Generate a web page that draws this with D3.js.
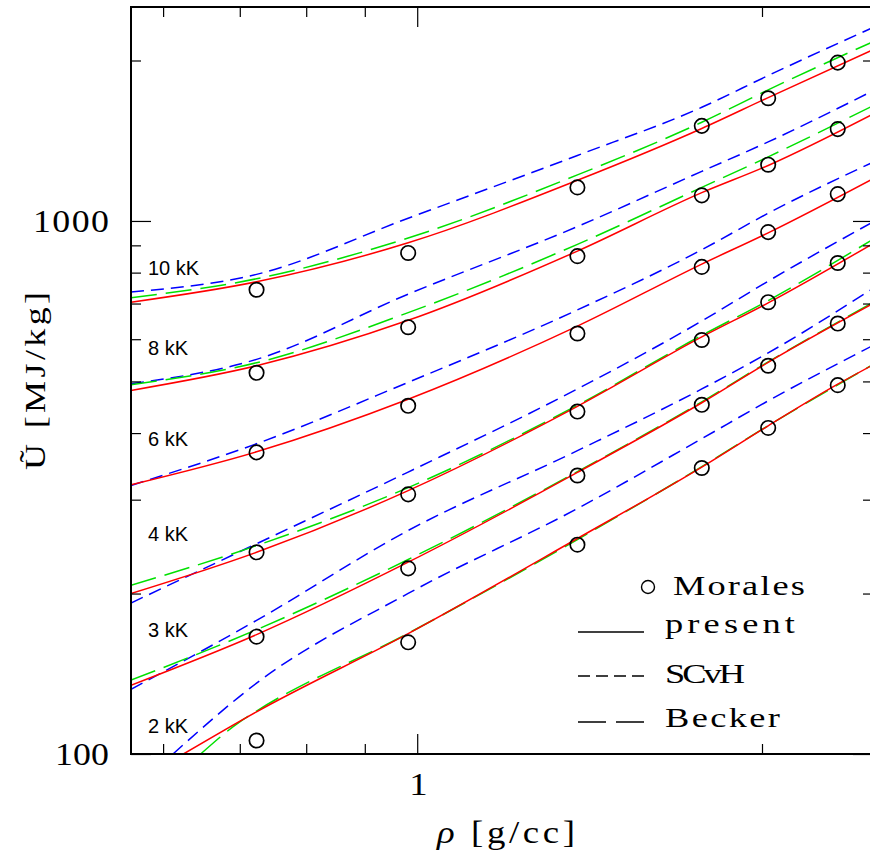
<!DOCTYPE html>
<html>
<head>
<meta charset="utf-8">
<script src="https://cdn.jsdelivr.net/npm/d3@7"></script>
<style>
  html, body { margin: 0; padding: 0; background: #fff; overflow: hidden; }
  svg { display: block; }
  .serif { font-family: "Liberation Serif", "DejaVu Serif", serif; fill: #000; }
  .sans { font-family: "Liberation Sans", Arial, sans-serif; fill: #000; }
</style>
</head>
<body>
<svg id="chart" width="870" height="859"></svg>
<script>
// Internal energy isotherms of dense hydrogen: rho [g/cc] vs U [MJ/kg]

// density grid shared by most isotherm curves
const rhoGrid = [0.5625, 0.724, 0.982, 1.380, 1.772, 2.025, 2.5];

// present model (solid)
const present10 = [704, 769, 910, 1192, 1491, 1704, 2095];
const present8  = [481, 535, 651, 878, 1130, 1271, 1587];
const present6  = [320, 369, 463, 635, 830, 950, 1200];
const present4  = [200, 239, 312, 449, 606, 702, 907];
const present3  = [134.6, 167.5, 229, 337.5, 456, 543, 700];
const rhoPresent2 = [0.625, 0.724, 0.982, 1.380, 1.772, 2.025, 2.329, 2.5];
const present2  = [100, 120.0, 168.2, 253.7, 345.4, 412.8, 494, 537];

// SCvH (short dashes)
const scvh10 = [736, 794, 1012, 1327, 1634, 1874, 2307];
const scvh8  = [495, 550, 729, 976, 1239, 1407, 1755];
const scvh6  = [319, 382, 498, 681, 883, 1034, 1289];
const scvh4  = [192, 248, 338, 484, 649, 771, 996];
const scvh3  = [132.2, 178.1, 262.6, 370.7, 484, 565.5, 747];
const rhoScvh2 = [0.612, 0.724, 0.982, 1.380, 1.772, 2.025, 2.5];
const scvh2  = [100, 135.8, 200.1, 288.7, 390.4, 459.8, 584];

// Becker (long dashes)
const becker10 = [718, 779, 929, 1220, 1532, 1762, 2169];
const becker8  = [493, 542, 673, 904, 1156, 1319, 1645];
const becker4  = [207.2, 246, 316, 451, 610, 709, 924];
const becker3  = [137.6, 171.1, 231.7, 338.6, 457.8, 544, 703];
const rhoBecker2 = [0.647, 0.700, 0.724, 0.982, 1.380, 1.772, 2.025, 2.5];
const becker2  = [100, 114.9, 120.4, 168.4, 252.6, 346, 413, 538];

// Morales et al. simulation points
const rhoMorales = [0.724, 0.982, 1.380, 1.772, 2.025, 2.329];
const morales10 = [743, 871, 1156, 1508, 1699, 1982];
const morales8  = [519, 632, 859, 1117, 1275, 1487];
const morales6  = [368, 450, 615, 820, 953, 1123];
const morales4  = [239, 307, 439, 598, 704, 834];
const morales3  = [166, 223, 333, 452, 535, 642];
const morales2  = [106, 162, 247, 344, 409, 492];

// isotherm labels
const tempLabels = ["10 kK", "8 kK", "6 kK", "4 kK", "3 kK", "2 kK"];

// axis ticks
const xMajor = [1];
const xMinor = [0.6, 0.7, 0.8, 0.9, 2];
const yMajor = [100, 1000];
const yMinor = [200, 300, 400, 500, 600, 700, 800, 900, 2000];

// legend entries
const legendNames = ["Morales", "present", "SCvH", "Becker"];

// ---------------------------------------------------------------
const svg = d3.select("#chart");
const L = 131, R = 873, T = 7, B = 754;

const x = d3.scaleLog().domain([0.5625, 2.5]).range([L, R]);
const y = d3.scaleLog().domain([100, 2520]).range([B, T]);

const COLORS = { present: "#ff0000", scvh: "#0000ff", becker: "#00e000" };
const DASH = { present: null, scvh: "13,7", becker: "26,9" };

svg.append("clipPath").attr("id", "plotClip")
  .append("rect").attr("x", L).attr("y", T).attr("width", R - L).attr("height", B - T);

const plot = svg.append("g").attr("clip-path", "url(#plotClip)");

const line = d3.line()
  .x(d => x(d[0]))
  .y(d => y(d[1]))
  .curve(d3.curveMonotoneX);

const zip = (xs, ys) => xs.map((v, i) => [v, ys[i]]);

const curves = [
  { kind: "scvh", pts: zip(rhoGrid, scvh10) },
  { kind: "scvh", pts: zip(rhoGrid, scvh8) },
  { kind: "scvh", pts: zip(rhoGrid, scvh6) },
  { kind: "scvh", pts: zip(rhoGrid, scvh4) },
  { kind: "scvh", pts: zip(rhoGrid, scvh3) },
  { kind: "scvh", pts: zip(rhoScvh2, scvh2) },
  { kind: "becker", pts: zip(rhoGrid, becker10) },
  { kind: "becker", pts: zip(rhoGrid, becker8) },
  { kind: "becker", pts: zip(rhoGrid, becker4) },
  { kind: "becker", pts: zip(rhoGrid, becker3) },
  { kind: "becker", pts: zip(rhoBecker2, becker2) },
  { kind: "present", pts: zip(rhoGrid, present10) },
  { kind: "present", pts: zip(rhoGrid, present8) },
  { kind: "present", pts: zip(rhoGrid, present6) },
  { kind: "present", pts: zip(rhoGrid, present4) },
  { kind: "present", pts: zip(rhoGrid, present3) },
  { kind: "present", pts: zip(rhoPresent2, present2) }
];

plot.selectAll("path.curve")
  .data(curves)
  .join("path")
  .attr("class", "curve")
  .attr("d", d => line(d.pts))
  .attr("fill", "none")
  .attr("stroke", d => COLORS[d.kind])
  .attr("stroke-width", 1.5)
  .attr("stroke-dasharray", d => DASH[d.kind]);

const moralesSets = [morales10, morales8, morales6, morales4, morales3, morales2];
const moralesPts = moralesSets.flatMap(s => zip(rhoMorales, s));

plot.selectAll("circle.morales")
  .data(moralesPts)
  .join("circle")
  .attr("class", "morales")
  .attr("cx", d => x(d[0]))
  .attr("cy", d => y(d[1]))
  .attr("r", 7.2)
  .attr("fill", "none")
  .attr("stroke", "#000")
  .attr("stroke-width", 1.7);

// ---- axes: inward ticks on all four sides
function tickAxis(axisFn, scale, values, size, transform) {
  const g = svg.append("g").attr("transform", transform)
    .call(axisFn(scale).tickValues(values).tickSize(size).tickFormat(""));
  g.select(".domain").remove();
  g.selectAll(".tick line").attr("stroke", "#000").attr("stroke-width", 1.2);
  return g;
}
tickAxis(d3.axisBottom, x, xMajor, -20, `translate(0,${B})`);
tickAxis(d3.axisBottom, x, xMinor, -10, `translate(0,${B})`);
tickAxis(d3.axisTop, x, xMajor, -20, `translate(0,${T})`);
tickAxis(d3.axisTop, x, xMinor, -10, `translate(0,${T})`);
tickAxis(d3.axisLeft, y, yMajor, -20, `translate(${L},0)`);
tickAxis(d3.axisLeft, y, yMinor, -10, `translate(${L},0)`);
tickAxis(d3.axisRight, y, yMajor, -20, `translate(${R},0)`);
tickAxis(d3.axisRight, y, yMinor, -10, `translate(${R},0)`);

svg.append("rect")
  .attr("x", L).attr("y", T).attr("width", R - L).attr("height", B - T)
  .attr("fill", "none").attr("stroke", "#000").attr("stroke-width", 2);

// wide serif lettering: glyphs stretched horizontally, total width fixed
function wideText(parent, opts) {
  const sx = opts.sx || 1.25;
  const rot = opts.rotate ? ` rotate(${opts.rotate})` : "";
  const t = parent.append("text").attr("class", "serif")
    .attr("transform", `translate(${opts.x},${opts.y})${rot} scale(${sx},1)`)
    .attr("font-size", opts.size)
    .attr("textLength", opts.width / sx)
    .attr("lengthAdjust", "spacing");
  if (opts.html) t.html(opts.html); else t.text(opts.text);
  return t;
}

// tick labels
xMajor.forEach(d => {
  wideText(svg, { x: x(d) - 8, y: 795, size: 32, width: 16, sx: 1.15, text: String(d) });
});
yMajor.forEach(d => {
  const w = String(d).length === 4 ? 76 : 54;
  wideText(svg, { x: 109 - w, y: y(d) + 11, size: 32, width: w, sx: 1.12, text: String(d) });
});

// axis titles
wideText(svg, { x: 437, y: 843, size: 32, width: 138, sx: 1.15,
  html: '<tspan font-style="italic">ρ</tspan> [g/cc]' });
wideText(svg, { x: 45, y: 470, rotate: -90, size: 30, width: 178, sx: 1.2,
  text: "Ũ [MJ/kg]" });

// isotherm labels
const labelBaselines = [275, 355, 445.5, 540.5, 636.5, 733];
svg.selectAll("text.temp").data(tempLabels).join("text")
  .attr("class", "temp sans")
  .attr("x", 148)
  .attr("y", (d, i) => labelBaselines[i])
  .attr("font-size", 20)
  .text(d => d);

// legend
const leg = svg.append("g");
leg.append("circle").attr("cx", 648).attr("cy", 587).attr("r", 6.5)
  .attr("fill", "none").attr("stroke", "#000").attr("stroke-width", 1.4);
const legRows = [
  { y: 595, x: 673, w: 132, dash: null, line: false },
  { y: 633, x: 665, w: 130, dash: null, line: true, ly: 632 },
  { y: 683, x: 665, w: 80, dash: "12,6", line: true, ly: 676 },
  { y: 727, x: 665, w: 115, dash: "28,10", line: true, ly: 722 }
];
legRows.forEach((r, i) => {
  if (r.line) {
    leg.append("line")
      .attr("x1", 578).attr("x2", 644)
      .attr("y1", r.ly).attr("y2", r.ly)
      .attr("stroke", "#000").attr("stroke-width", 1.5)
      .attr("stroke-dasharray", r.dash);
  }
  wideText(leg, { x: r.x, y: r.y, size: 28, width: r.w, sx: 1.3, text: legendNames[i] });
});
</script>
</body>
</html>
